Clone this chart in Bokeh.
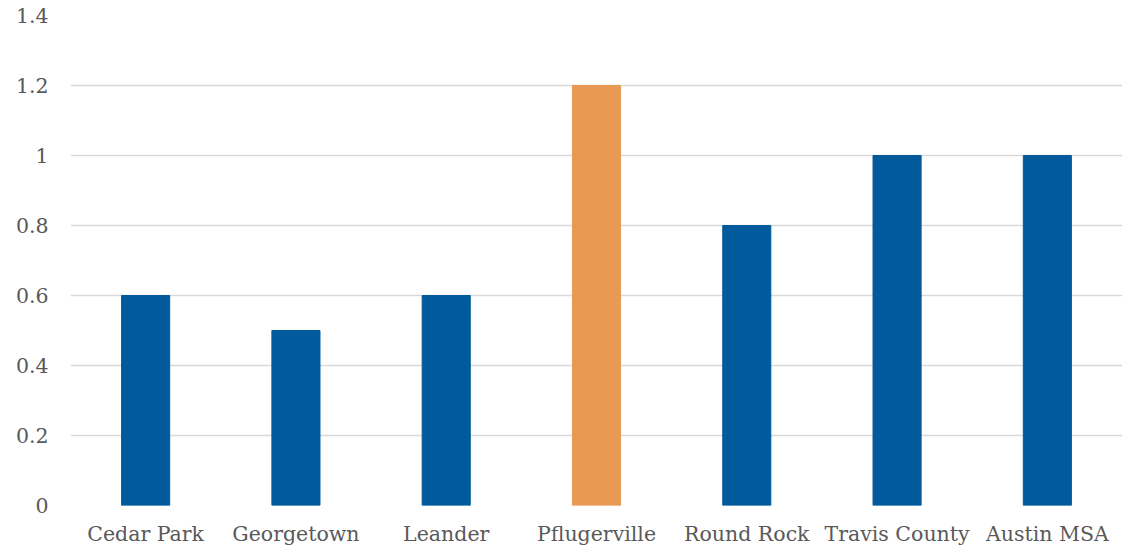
from bokeh.plotting import figure
from bokeh.models import FactorRange, Range1d, FixedTicker, ColumnDataSource
from bokeh.embed import file_html
from bokeh.resources import INLINE

categories = ["Cedar Park", "Georgetown", "Leander", "Pflugerville", "Round Rock", "Travis County", "Austin MSA"]
values = [0.6, 0.5, 0.6, 1.2, 0.8, 1.0, 1.0]
bar_colors = ["#005A9C", "#005A9C", "#005A9C", "#E89A55", "#005A9C", "#005A9C", "#005A9C"]
y_ticks = [0, 0.2, 0.4, 0.6, 0.8, 1.0, 1.2, 1.4]
y_tick_labels = ["0", "0.2", "0.4", "0.6", "0.8", "1", "1.2", "1.4"]

src = ColumnDataSource(dict(cat=categories, val=values, color=bar_colors))

p = figure(x_range=FactorRange(*categories, range_padding=0), y_range=Range1d(0, 1.4),
           width=1122, height=548, output_backend="svg", toolbar_location=None,
           min_border_left=70, min_border_right=0, min_border_top=15, min_border_bottom=43)
p.vbar(x="cat", top="val", width=0.32, color="color", source=src)

font = "DejaVu Serif"
p.outline_line_color = None
p.xgrid.grid_line_color = None
p.ygrid.grid_line_color = "#d9d9d9"
p.ygrid.grid_line_width = 1.5
p.yaxis.ticker = FixedTicker(ticks=y_ticks)
p.yaxis.major_label_overrides = {t: l for t, l in zip(y_ticks, y_tick_labels)}
for ax in (p.xaxis[0], p.yaxis[0]):
    ax.axis_line_color = None
    ax.major_tick_line_color = None
    ax.minor_tick_line_color = None
    ax.major_label_text_font = font
    ax.major_label_text_color = "#595959"
    ax.major_label_text_font_size = "20.5px"
p.yaxis.major_label_standoff = 16
p.xaxis.major_label_standoff = 10

open("out.html", "w").write(file_html(p, INLINE))
